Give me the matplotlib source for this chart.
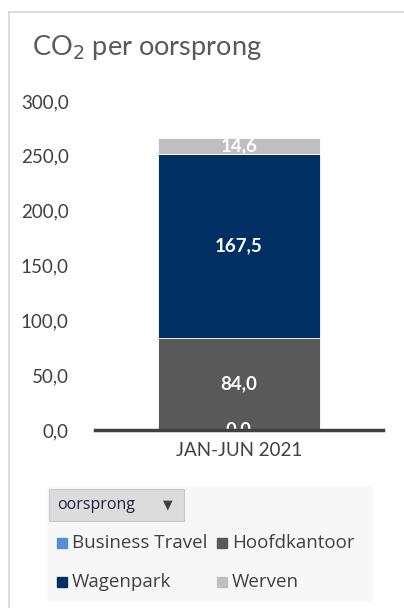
import matplotlib.pyplot as plt
from matplotlib.patches import Rectangle
from matplotlib.lines import Line2D

# data
category = ["JAN-JUN 2021"]
series = ["Business Travel", "Hoofdkantoor", "Wagenpark", "Werven"]
values = [0.0, 84.0, 167.5, 14.6]
colors = ["#5b8bd6", "#595959", "#002f63", "#bfbfbf"]
yticks = [0, 50, 100, 150, 200, 250, 300]

W, H = 404, 608
fig = plt.figure(figsize=(W / 100, H / 100), dpi=100)
fig.patch.set_facecolor("white")

def fx(px):
    return px / W

def fy(py):
    return 1 - py / H

# chart border (top and left edges visible)
fig.add_artist(Line2D([fx(9), fx(9)], [fy(12), 0], color="#d4d4d4", lw=1.2))
fig.add_artist(Line2D([fx(9), 1], [fy(12), fy(12)], color="#d4d4d4", lw=1.2))

fig.text(fx(32), fy(48), "CO$_2$ per oorsprong", fontsize=19.5, color="#595959",
         family="Lato", va="center", ha="left")

ax = fig.add_axes([fx(95), fy(430), fx(383) - fx(95), fy(101) - fy(430)])
bottom = 0.0
for name, v, c in zip(series, values, colors):
    ax.bar(0, v, bottom=bottom, width=0.565, color=c, edgecolor="white",
           linewidth=0.6, zorder=2)
    ax.text(0, bottom + v / 2, f"{v:.1f}".replace(".", ","), ha="center",
            va="center", color="white", fontsize=13.5, fontweight="bold",
            family="Lato", zorder=3)
    bottom += v

ax.set_xlim(-0.5, 0.5)
ax.set_ylim(0, 300)
ax.set_yticks(yticks)
ax.set_yticklabels([f"{t:.1f}".replace(".", ",") for t in yticks],
                   fontsize=13.5, color="#404040", family="Lato")
ax.set_xticks([0])
ax.set_xticklabels(category, fontsize=13.5, color="#404040", family="Lato")
ax.tick_params(length=0, pad=9)
ax.tick_params(axis="y", pad=19)
for s in ["top", "right", "left"]:
    ax.spines[s].set_visible(False)
ax.spines["bottom"].set_color("#404040")
ax.spines["bottom"].set_linewidth(2.5)
ax.spines["bottom"].set_zorder(4)
ax.set_facecolor("none")

# legend area with field button
fig.add_artist(Rectangle((fx(47), fy(600)), fx(372) - fx(47), fy(487) - fy(600),
                         transform=fig.transFigure, color="#f7f7f7", zorder=0))
fig.add_artist(Rectangle((fx(49), fy(521)), fx(184) - fx(49), fy(489) - fy(521),
                         transform=fig.transFigure, facecolor="#dcdcdc",
                         edgecolor="#c8c8c8", lw=0.8, zorder=1))
fig.text(fx(57), fy(505), "oorsprong", fontsize=11.5, color="#202040",
         family="Open Sans", va="center", ha="left")
fig.text(fx(168), fy(505), "▼", fontsize=9, color="#404040",
         family="DejaVu Sans", va="center", ha="center")

entry_pos = [(62, 543), (222, 543), (62, 582), (222, 582)]
for name, c, (x, y) in zip(series, colors, entry_pos):
    fig.add_artist(Rectangle((fx(x - 5), fy(y + 5)), fx(10), fy(0) - fy(10),
                             transform=fig.transFigure, color=c, zorder=2))
    fig.text(fx(x + 10), fy(y), name, fontsize=13.5, color="#404040",
             family="Open Sans", va="center", ha="left")

fig.savefig("out.png", dpi=100)
